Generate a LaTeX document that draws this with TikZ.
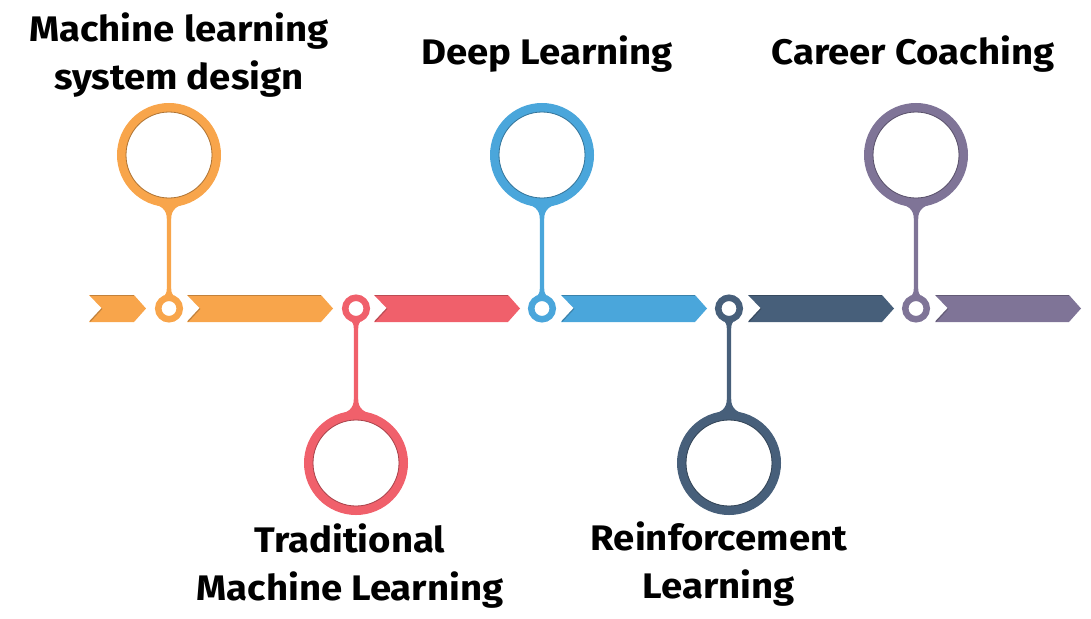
\documentclass[tikz,border=0pt]{standalone}
\usepackage{fontspec}
\setmainfont{Fira Sans}[FakeStretch=1.08]
\usetikzlibrary{calc}

\definecolor{cOrange}{HTML}{F8A54B}
\definecolor{cRed}{HTML}{F0606B}
\definecolor{cBlue}{HTML}{4AA6DB}
\definecolor{cNavy}{HTML}{475F7A}
\definecolor{cPurple}{HTML}{7F7497}

\begin{document}
\begin{tikzpicture}[x=1pt, y=-1pt,
  tltext/.style={font=\bfseries\fontsize{35.5}{48}\selectfont, align=center, anchor=base},
  bigring/.style={circle, draw, line width=9pt, fill=white, minimum size=95pt, inner sep=0pt},
  smallring/.style={circle, draw, line width=6.5pt, fill=white, minimum size=21.5pt, inner sep=0pt},
  rim/.style={line width=0.8pt},
]
  \useasboundingbox (0,0) rectangle (1091,618);

  % Chevrons along the time line
  \foreach \xl/\xr/\col in {89/146/cOrange, 187/333/cOrange, 374/520/cRed,
                            561/707/cBlue, 748/894/cNavy, 935/1081/cPurple} {
    \fill[\col] (\xl,295) -- (\xr-12,295) -- (\xr,308.5) -- (\xr-12,322)
      -- (\xl,322) -- (\xl+13,308.5) -- cycle;
    \draw[\col!78!black, line width=1.2pt] (\xl+1,295.6) -- (\xr-12.3,295.6);
    \draw[\col!78!black, line width=1.2pt] (\xl+13,308.5) -- (\xl+1,321.4);
  }

  % Pins: small ring on the line, big ring above or below
  \foreach \i/\x/\yb/\s/\col in {1/169/155/1/cOrange, 2/356/463/-1/cRed, 3/542/155/1/cBlue,
                                 4/729/463/-1/cNavy, 5/916/155/1/cPurple} {
    \node[smallring, draw=\col] (s\i) at (\x,308.5) {};
    \node[bigring, draw=\col]   (b\i) at (\x,\yb) {};
    \draw[rim, \col!70!black] (b\i.center) circle[radius=43];
    \fill[\col] ($(b\i.center)+(-22,\s*47)$) .. controls ($(b\i.center)+(-8,\s*50)$) and ($(b\i.center)+(-2.2,\s*54)$) .. ($(b\i.center)+(-2.2,\s*64)$)
      -- ($(s\i.center)+(-2.2,-\s*20)$) .. controls ($(s\i.center)+(-2.2,-\s*15)$) and ($(s\i.center)+(-4,-\s*14)$) .. ($(s\i.center)+(-5,-\s*12)$)
      -- ($(s\i.center)+(5,-\s*12)$) .. controls ($(s\i.center)+(4,-\s*14)$) and ($(s\i.center)+(2.2,-\s*15)$) .. ($(s\i.center)+(2.2,-\s*20)$)
      -- ($(b\i.center)+(2.2,\s*64)$) .. controls ($(b\i.center)+(2.2,\s*54)$) and ($(b\i.center)+(8,\s*50)$) .. ($(b\i.center)+(22,\s*47)$) -- cycle;
  }

  % Labels (base = last line)
  \node[tltext] (t1) at (179,89)  {Machine learning\\system design};
  \node[tltext] (t2) at (350,600) {Traditional\\Machine Learning};
  \node[tltext] (t3) at (547,64)  {Deep Learning};
  \node[tltext] (t4) at (719,598) {Reinforcement\\Learning};
  \node[tltext] (t5) at (913,64)  {Career Coaching};
\end{tikzpicture}
\end{document}
